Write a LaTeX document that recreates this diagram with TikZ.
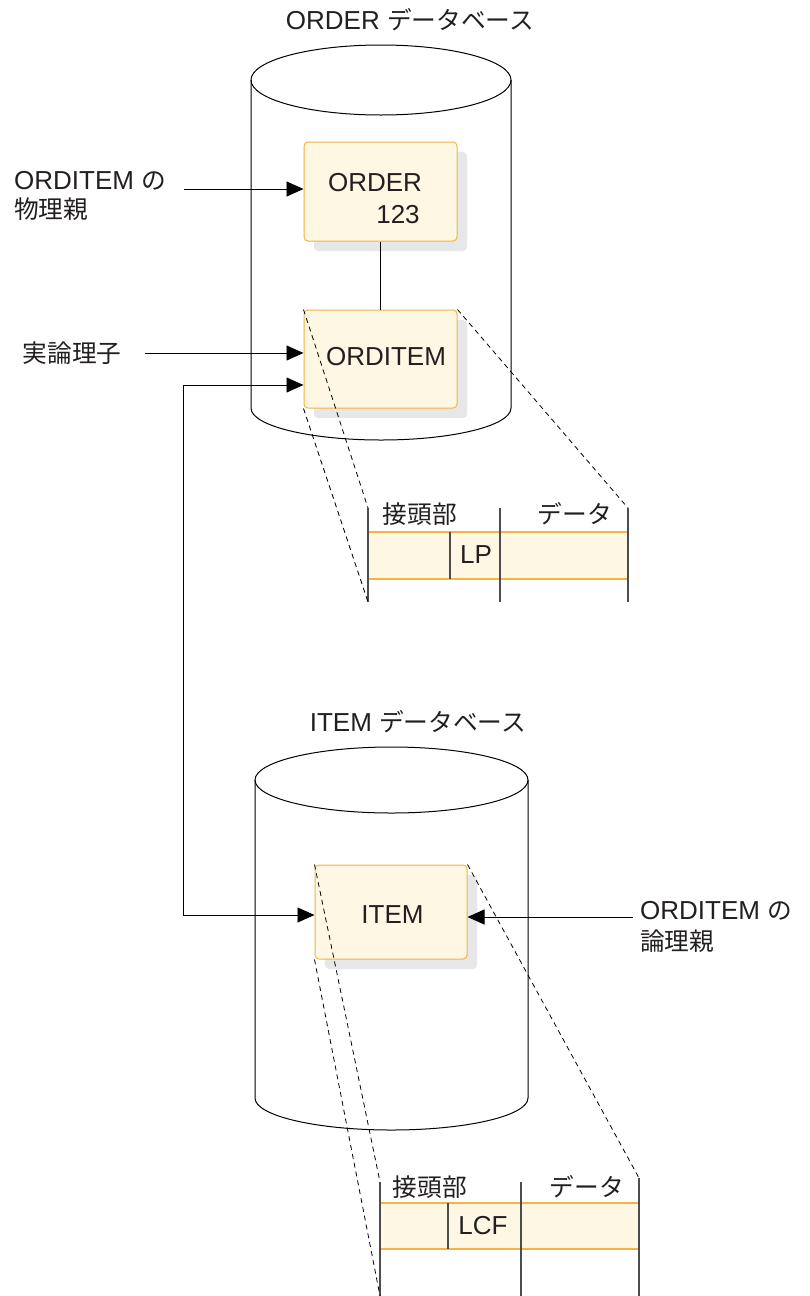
\documentclass[tikz,border=0pt]{standalone}
\usepackage{fontspec}
\setmainfont{Liberation Sans}
\newfontfamily\jp{Noto Sans CJK JP}[Scale=0.95]
\usetikzlibrary{arrows.meta,shadows}
\definecolor{boxfill}{HTML}{FDF7E4}
\definecolor{boxline}{HTML}{F5B342}
\definecolor{shade}{HTML}{E6E7E9}
\definecolor{ink}{HTML}{231F20}
\definecolor{vline}{HTML}{4D4D4D}
\begin{document}
\begin{tikzpicture}[x=1pt,y=-1pt,
  txt/.style={font=\fontsize{26}{30}\selectfont, text=ink, inner sep=0pt},
  rec/.style={draw=boxline, fill=boxfill, line width=1pt, rounded corners=4pt, inner sep=0pt,
    general shadow={shadow xshift=10pt, shadow yshift=-10pt, fill=shade, draw=none, rounded corners=4pt}},
  band/.style={draw=boxline, fill=boxfill, line width=1.5pt, inner sep=0pt},
  cyl/.style={draw=black, line width=1pt},
  arr/.style={-{Triangle[length=17pt,width=15pt]}, line width=0.9pt},
  biarr/.style={{Triangle[length=17pt,width=15pt]}-{Triangle[length=17pt,width=15pt]}, line width=0.9pt},
  zoomline/.style={dashed, dash pattern=on 5pt off 4pt, line width=0.8pt},
  sepline/.style={draw=vline, line width=1.3pt}
]
\useasboundingbox (0,0) rectangle (810,1296);

% ---------- top cylinder ----------
\draw[cyl] (381,80) ellipse [x radius=130pt, y radius=35pt];
\draw[cyl] (251,80) -- (251,408) arc[start angle=180, end angle=360, x radius=130pt, y radius=32pt] -- (511,80);
\node[txt] (t1) at (410,20) {ORDER {\jp データベース}};

\node[rec, minimum width=153pt, minimum height=99pt] (order) at (380.5,191.5) {};
\node[txt] (ordtxt) at (375,183) {ORDER};
\node[txt] (num) at (398,215) {123};
\node[rec, minimum width=153pt, minimum height=98pt] (oi) at (380.5,359) {};
\node[txt] (oitxt) at (386,357) {ORDITEM};
\draw[line width=1pt] (order.south) -- (oi.north);

% labels left
\node[txt, anchor=west] (l1a) at (14,181) {ORDITEM {\jp の}};
\node[txt, anchor=west] (l1b) at (14,209) {\jp 物理親};
\node[txt] (l2) at (72,353) {\jp 実論理子};
\coordinate (s1) at (184,189);
\coordinate (s2) at (145,353);
\coordinate (s3) at (183,385);
\draw[arr] (s1) -- (s1 -| order.west);
\draw[arr] (s2) -- (s2 -| oi.west);

% ---------- top segment ----------
\node[band, minimum width=260pt, minimum height=47pt] (segA) at (498,555.5) {};
\coordinate (a1t) at (368,508); \coordinate (a1b) at (368,602);
\coordinate (a2t) at (500,508); \coordinate (a2b) at (500,602);
\coordinate (a3t) at (628,508); \coordinate (a3b) at (628,602);
\draw[sepline] (a1t) -- (a1b);
\draw[sepline] (a2t) -- (a2b);
\draw[sepline] (a3t) -- (a3b);
\draw[sepline] (450,532) -- (450,579);
\node[txt] (pa) at (420,514) {\jp 接頭部};
\node[txt] (da) at (575,514) {\jp データ};
\node[txt] (lp) at (476,555) {LP};
\draw[zoomline] (oi.north west) -- (a1t);
\draw[zoomline] (oi.south west) -- (a1b);
\draw[zoomline] (oi.north east) -- (a3t);

% ---------- bottom cylinder ----------
\draw[cyl] (391.5,780) ellipse [x radius=136.5pt, y radius=33pt];
\draw[cyl] (255,780) -- (255,1098) arc[start angle=180, end angle=360, x radius=136.5pt, y radius=32pt] -- (528,780);
\node[txt] (t2) at (418,722) {ITEM {\jp データベース}};

\node[rec, minimum width=152pt, minimum height=94pt] (item) at (391,912) {};
\node[txt] (itxt) at (392.5,915) {ITEM};

\node[txt, anchor=west] (r1a) at (640,911) {ORDITEM {\jp の}};
\node[txt, anchor=west] (r1b) at (640,941) {\jp 論理親};
\coordinate (s4) at (633,917);
\draw[arr] (s4) -- (s4 -| item.east);

\coordinate (s5) at (183,915);
\draw[biarr] (s3 -| oi.west) -- (s3) -- (s5) -- (s5 -| item.west);

% ---------- bottom segment ----------
\node[band, minimum width=259pt, minimum height=46pt] (segB) at (509.5,1226) {};
\coordinate (b1t) at (380,1182); \coordinate (b1b) at (380,1296);
\coordinate (b2t) at (521,1182); \coordinate (b2b) at (521,1296);
\coordinate (b3t) at (639,1178); \coordinate (b3b) at (639,1296);
\draw[sepline] (b1t) -- (b1b);
\draw[sepline] (b2t) -- (b2b);
\draw[sepline] (b3t) -- (b3b);
\draw[sepline] (448,1203) -- (448,1249);
\node[txt] (pb) at (430,1187) {\jp 接頭部};
\node[txt] (db) at (587,1187) {\jp データ};
\node[txt] (lcf) at (483,1226) {LCF};
\draw[zoomline] (item.north west) -- (b1t);
\draw[zoomline] (item.south west) -- (b1b);
\draw[zoomline] (item.north east) -- (b3t);
\end{tikzpicture}
\end{document}
